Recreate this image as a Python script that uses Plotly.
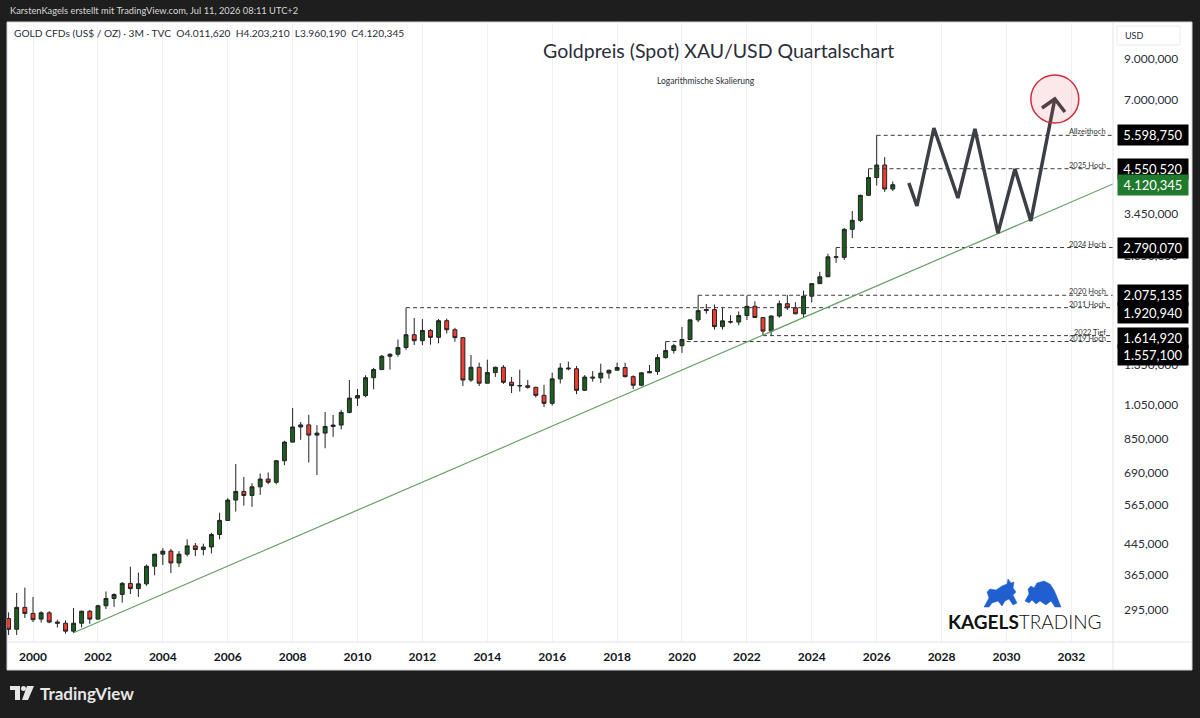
import math
import pandas as pd
import plotly.graph_objects as go

# ---------------- data (quarterly gold candles) ----------------
first_quarter = "1999-04-01"
opens = [279, 261, 299,
         288, 278, 289, 273, 271, 258, 271, 292, 278, 302, 316, 324,
         347, 336, 346, 386, 416, 424, 394, 416, 438, 428, 435, 470,
         513, 582, 614, 599, 632, 663, 650, 743, 834, 916, 928, 871,
         882, 919, 927, 1003, 1096, 1113, 1244, 1308, 1421, 1439, 1500, 1624,
         1565, 1668, 1598, 1772, 1675, 1595, 1226, 1327, 1202, 1284, 1327, 1209,
         1182, 1183, 1172, 1115, 1061, 1235, 1321, 1315, 1150, 1249, 1242, 1280,
         1303, 1325, 1252, 1187, 1282, 1292, 1409, 1472, 1517, 1577, 1781, 1886,
         1898, 1708, 1757, 1757, 1829, 1937, 1807, 1661, 1824, 1969, 1919, 1849,
         2063, 2230, 2327, 2625, 2625, 3124, 3303, 3858, 4310, 4657, 4011.62]
highs = [290, 327, 338,
         319, 292, 292, 277, 276, 298, 293, 294, 304, 330, 326, 350,
         385, 371, 390, 417, 432, 430, 424, 456, 446, 444, 475, 538,
         589, 728, 672, 646, 686, 691, 745, 841, 1031, 945, 988, 927,
         1005, 987, 1019, 1226, 1160, 1263, 1322, 1432, 1447, 1577, 1920.94, 1802,
         1790, 1683, 1790, 1796, 1695, 1598, 1432, 1366, 1391, 1332, 1345, 1250,
         1307, 1226, 1175, 1190, 1283, 1362, 1375, 1337, 1264, 1296, 1357, 1307,
         1366, 1365, 1262, 1286, 1346, 1439, 1557.10, 1535, 1704, 1786, 2075.135, 1966,
         1959, 1916, 1834, 1877, 2070, 1998, 1808, 1830, 2009, 2079, 1987, 2135,
         2236, 2400, 2685, 2790.07, 3148, 3500, 3872, 4550.52, 5598.75, 4890, 4203.21]
lows = [252, 252, 280,
        273, 272, 271, 264, 254, 255, 264, 270, 277, 296, 300, 308,
        325, 319, 342, 365, 389, 370, 384, 410, 411, 413, 418, 456,
        512, 542, 562, 558, 601, 642, 642, 723, 832, 846, 735, 680,
        803, 862, 902, 997, 1044, 1102, 1157, 1308, 1308, 1418, 1478, 1523,
        1523, 1527, 1540, 1636, 1555, 1181, 1212, 1181, 1202, 1250, 1197, 1131,
        1142, 1162, 1100, 1037, 1046, 1200, 1302, 1123, 1146, 1214, 1204, 1236,
        1303, 1246, 1160, 1180, 1280, 1266, 1400, 1445, 1451, 1576, 1757, 1850,
        1677, 1677, 1740, 1721, 1780, 1805, 1614.92, 1617, 1805, 1893, 1845, 1810,
        1984, 2277, 2353, 2537, 2584, 2957, 3268, 3840, 4100, 3940, 3960.19]
closes = [261, 299, 288,
          277, 289, 273, 271, 258, 271, 292, 278, 302, 316, 324, 347,
          336, 346, 386, 416, 424, 394, 416, 438, 428, 435, 470, 513,
          582, 614, 599, 632, 663, 650, 743, 834, 916, 928, 871, 882,
          919, 927, 1003, 1096, 1113, 1244, 1308, 1421, 1439, 1500, 1624, 1565,
          1668, 1598, 1772, 1675, 1595, 1226, 1327, 1202, 1284, 1327, 1209, 1184,
          1184, 1172, 1115, 1061, 1235, 1321, 1315, 1150, 1249, 1242, 1280, 1303,
          1325, 1252, 1187, 1282, 1292, 1409, 1472, 1517, 1577, 1781, 1886, 1898,
          1708, 1770, 1760, 1829, 1937, 1807, 1661, 1824, 1969, 1919, 1849, 2063,
          2230, 2327, 2634, 2634, 3124, 3303, 3858, 4310, 4657, 4011.62, 4120.345]

# key levels (label, value, date where the level was made)
level_names = ["Allzeithoch", "2025 Hoch", "2024 Hoch", "2020 Hoch", "2011 Hoch", "2022 Tief", "2019 Hoch"]
level_values = [5598.75, 4550.52, 2790.07, 2075.135, 1920.94, 1614.92, 1557.10]
level_starts = ["2026-01-01", "2025-10-01", "2024-10-01", "2020-07-01", "2011-07-01", "2022-07-01", "2019-07-01"]
level_box_shift = [0, 0, 0, 0, -5, -2, -13]   # price-scale label offsets (px) to avoid overlap

current_price = 4120.345

# trend line through the 2001 low
trend_dates = ["2001-04-01", "2033-04-14"]
trend_values = [255.5, 4140]

# projected path
path_dates = ["2026-12-29", "2027-03-30", "2027-10-07", "2028-07-03", "2029-01-11",
              "2029-09-27", "2030-04-06", "2030-10-02", "2031-06-29"]
path_values = [4165, 3611, 5859, 3795, 5823, 3053, 4543, 3291, 7015]
arrow_dates = ["2031-02-04", "2031-06-29", "2031-10-21"]
arrow_values = [6632, 7015, 6471]

# axes
year_ticks = list(range(2000, 2033, 2))
price_ticks = [295, 365, 445, 565, 690, 850, 1050, 1350, 2650, 3450, 7000, 9000]


def de_fmt(v):
    s = f"{v:,.3f}"
    return s.replace(",", "X").replace(".", ",").replace("X", ".")


# ---------------- layout geometry ----------------
W, H = 1200, 718
L, R, T, B = 7, 1113, 22, 642      # plot area in pixels
PW, PH = R - L, B - T


def px(x):
    return (x - L) / PW


def py(y):
    return (B - y) / PH


FONT = "Lato"
GREEN = "#1b5e20"
RED = "#f23c32"
DARK = "#2a2e39"

dates = pd.date_range(first_quarter, periods=len(opens), freq="QS")

fig = go.Figure()

# level lines
for name, val, start in zip(level_names, level_values, level_starts):
    fig.add_trace(go.Scatter(x=[start, "2033-04-14"], y=[val, val], mode="lines",
                             line=dict(color="#3a3a3a", width=1, dash="4px,3px"),
                             hoverinfo="skip", showlegend=False))

# trend line
fig.add_trace(go.Scatter(x=trend_dates, y=trend_values, mode="lines",
                         line=dict(color="#66a066", width=1.2), hoverinfo="skip", showlegend=False))

# candles
fig.add_trace(go.Candlestick(
    x=dates, open=opens, high=highs, low=lows, close=closes,
    increasing=dict(fillcolor=GREEN, line=dict(color="#222222", width=1)),
    decreasing=dict(fillcolor=RED, line=dict(color="#222222", width=1)),
    whiskerwidth=0, showlegend=False))

# projected path
fig.add_trace(go.Scatter(x=path_dates, y=path_values, mode="lines",
                         line=dict(color="#3c3f45", width=3.5), hoverinfo="skip", showlegend=False))
fig.add_trace(go.Scatter(x=arrow_dates, y=arrow_values, mode="lines",
                         line=dict(color="#3c3f45", width=3.5), hoverinfo="skip", showlegend=False))
# target circle
fig.add_trace(go.Scatter(x=[path_dates[-1]], y=[path_values[-1]], mode="markers",
                         marker=dict(size=48, color="rgba(235,80,90,0.13)",
                                     line=dict(color="#cf2f3b", width=1.5)),
                         hoverinfo="skip", showlegend=False))

y_lo = 3.0212 - (B - 405) / 371
y_hi = 3.0212 + (405 - T) / 371

fig.update_layout(
    width=W, height=H,
    margin=dict(l=L, r=W - R, t=T, b=H - B, pad=0),
    paper_bgcolor="#1e1e1e",
    plot_bgcolor="#ffffff",
    font=dict(family=FONT, color=DARK),
    showlegend=False,
    xaxis=dict(type="date", range=["1999-03-14", "2033-04-14"],
               tickvals=[f"{y}-01-01" for y in year_ticks],
               ticktext=[str(y) for y in year_ticks],
               showgrid=True, gridcolor="#eef0f5", gridwidth=1,
               rangeslider=dict(visible=False), zeroline=False,
               showline=False, ticks="", ticklabelstandoff=6,
               tickfont=dict(family=FONT, size=12, color="#131722", weight="bold")),
    yaxis=dict(type="log", range=[y_lo, y_hi], side="right",
               tickvals=price_ticks, ticktext=[de_fmt(v) for v in price_ticks],
               showgrid=False, zeroline=False, showline=False, ticks="",
               ticklabelstandoff=10,
               tickfont=dict(family=FONT, size=12, color="#2a2e39")),
)

shapes = []
# white chart panel (plot + scales)
shapes.append(dict(type="rect", xref="paper", yref="paper", x0=px(7), x1=px(1192), y0=py(670), y1=py(22),
                   fillcolor="#ffffff", line=dict(color="#cfd2d8", width=1), layer="below"))
# scale separators
shapes.append(dict(type="line", xref="paper", yref="paper", x0=px(1113), x1=px(1113), y0=py(670), y1=py(22),
                   line=dict(color="#e0e3eb", width=1)))
shapes.append(dict(type="line", xref="paper", yref="paper", x0=px(7), x1=px(1192), y0=py(642), y1=py(642),
                   line=dict(color="#e0e3eb", width=1)))
# USD box
shapes.append(dict(type="rect", xref="paper", yref="paper", x0=px(1117), x1=px(1180), y0=py(45), y1=py(26),
                   fillcolor="#ffffff", line=dict(color="#e8eaef", width=1)))


def poly(points):
    p = "M " + " L ".join(f"{px(x):.5f},{py(y):.5f}" for x, y in points) + " Z"
    return p


# bull & bear logo (simplified silhouettes)
bull = [(984, 607), (989, 598), (987, 592), (990, 589), (996, 590), (1002, 586), (1007, 584), (1008, 579),
        (1011, 583), (1014, 582), (1013, 588), (1016, 592), (1013, 595), (1017, 603), (1013, 605),
        (1009, 599), (1005, 601), (1002, 606), (998, 601), (992, 603), (989, 607)]
bear = [(1025, 601), (1029, 594), (1028, 589), (1031, 586), (1034, 588), (1037, 583), (1044, 581),
        (1050, 584), (1054, 590), (1057, 597), (1061, 607), (1055, 607), (1051, 601), (1046, 605),
        (1040, 601), (1036, 604), (1032, 600), (1029, 603)]
for shp in (bull, bear):
    shapes.append(dict(type="path", xref="paper", yref="paper", path=poly(shp),
                       fillcolor="#1f5fd0", line=dict(color="#1f5fd0", width=0.5)))

# TradingView footer icon
tv_icon = [(10, 686), (20, 686), (20, 700), (15, 700), (15, 690), (10, 690)]
tv_slash = [(27, 686), (34, 686), (28, 700), (22, 700)]
shapes.append(dict(type="path", xref="paper", yref="paper", path=poly(tv_icon),
                   fillcolor="#e6e6e6", line=dict(width=0)))
shapes.append(dict(type="path", xref="paper", yref="paper", path=poly(tv_slash),
                   fillcolor="#e6e6e6", line=dict(width=0)))
shapes.append(dict(type="circle", xref="paper", yref="paper", x0=px(21), x1=px(26), y0=py(691), y1=py(686),
                   fillcolor="#e6e6e6", line=dict(width=0)))
fig.update_layout(shapes=shapes)

ann = []


def add_text(x, y, text, size, color=DARK, xanchor="left", yanchor="middle", weight="normal", **kw):
    ann.append(dict(xref="paper", yref="paper", x=px(x), y=py(y), text=text, showarrow=False,
                    xanchor=xanchor, yanchor=yanchor,
                    font=dict(family=FONT, size=size, color=color, weight=weight), **kw))


add_text(8, 10, "KarstenKagels erstellt mit TradingView.com, Jul 11, 2026 08:11 UTC+2", 9.3, color="#d6d6d6")
add_text(12, 33, "GOLD CFDs (US$ / OZ) · 3M · TVC  O4.011,620  H4.203,210  L3.960,190  C4.120,345", 10.2,
         color="#2a2e39")
add_text(718, 50, "Goldpreis (Spot) XAU/USD Quartalschart", 19.5, color="#2a2e39", xanchor="center")
add_text(706, 81, "Logarithmische Skalierung", 8.5, color="#2a2e39", xanchor="center")
add_text(1123, 35, "USD", 9, color="#2a2e39")
add_text(38, 693, "TradingView", 17, color="#e6e6e6", weight="bold")
add_text(946, 621, "<b>KAGELS</b><span style='font-weight:300'>TRADING</span>", 19, color="#111111")

# level labels and price-scale boxes
for name, val, shift in zip(level_names, level_values, level_box_shift):
    ann.append(dict(xref="paper", yref="y", x=px(1108), y=math.log10(val), text=name, showarrow=False,
                    xanchor="right", yanchor="bottom", yshift=-3,
                    font=dict(family=FONT, size=7.5, color="#333333")))
    ann.append(dict(xref="paper", yref="y", x=px(1117), y=math.log10(val), text=de_fmt(val), showarrow=False,
                    xanchor="left", yanchor="middle", yshift=shift, bgcolor="#000000", borderpad=2,
                    width=66, align="center",
                    font=dict(family=FONT, size=13, color="#ffffff")))
ann.append(dict(xref="paper", yref="y", x=px(1117), y=math.log10(current_price), text=de_fmt(current_price),
                showarrow=False, xanchor="left", yanchor="middle", bgcolor="#1f7a2e", borderpad=2,
                width=66, align="center", font=dict(family=FONT, size=13, color="#ffffff")))

fig.update_layout(annotations=ann)
fig.write_html("out.html")
